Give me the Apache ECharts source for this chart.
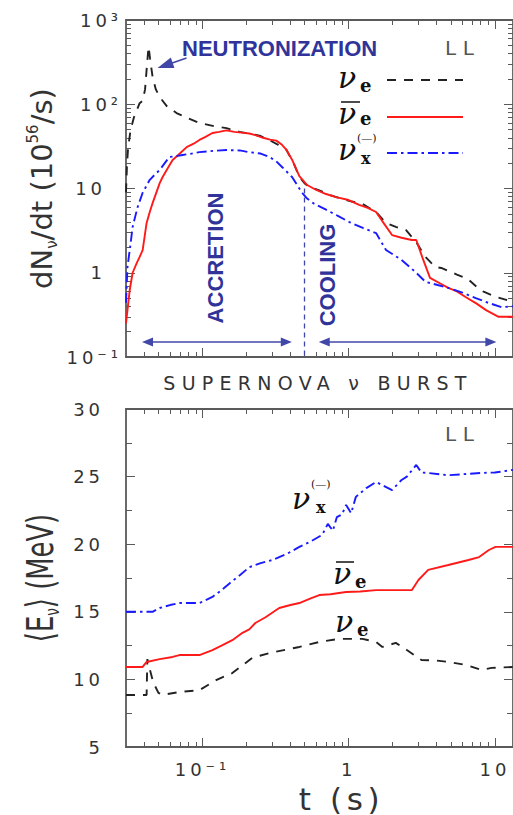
<!DOCTYPE html>
<html><head><meta charset="utf-8">
<script src="https://cdn.jsdelivr.net/npm/echarts@6/dist/echarts.min.js"></script>
<style>
html,body{margin:0;padding:0;background:#fff}
#c{width:513px;height:815px}
text[style*="lsA"],text[font-family*="lsA"]{letter-spacing:0.33em}
text[style*="lsB"],text[font-family*="lsB"]{letter-spacing:0.22em}
text[style*="lsC"],text[font-family*="lsC"]{letter-spacing:0.15em}
</style></head><body><div id="c"></div>
<script>
// ---------- DATA ----------
// top panel: dN/dt (10^56/s) vs t (s)
const nueT = [0.03,0.0305,0.031,0.0322,0.034,0.0372,0.039,0.0405,0.0418,0.0428,0.0438,0.0456,0.048,0.051,0.057,0.0665,0.08,0.0954,0.12,0.146,0.179,0.209,0.25,0.287,0.33,0.374,0.42,0.46,0.5,0.54,0.63,0.74,0.9,1.05,1.22,1.54,1.8,2.1,2.47,2.9,3.35,3.9,4.3,5.5,6.5,7.5,8.3,10.1,13.3];
const nueN = [9,20,30,49,70,103,110,150,300,480,350,210,150,122,95,78.7,68,60,55,52,47,45,42,37.5,33,29,20,13.7,11.5,10.4,9.5,8.4,7.5,7.0,6.7,5.26,3.9,3.5,3.2,2.3,1.54,1.17,1.14,0.95,0.85,0.68,0.6,0.52,0.45];
const antiT = [0.03,0.0318,0.0333,0.0355,0.0372,0.039,0.0415,0.0435,0.0456,0.051,0.0534,0.058,0.0625,0.07,0.078,0.087,0.0954,0.105,0.117,0.13,0.146,0.165,0.185,0.209,0.23,0.26,0.29,0.32,0.35,0.374,0.41,0.46,0.52,0.6,0.7,0.82,1.0,1.18,1.35,1.54,1.75,1.98,2.3,2.7,2.9,3.2,3.6,4.2,4.8,5.5,6.3,7.5,8.7,10.6,13.3];
const antiN = [0.25,0.62,1.0,1.3,1.54,1.86,3.9,5.2,6.7,11.6,13.7,17.5,21.8,26,31,34,37.7,41,45.6,47,49,47,46,45,43,40,38,37,33,29,22,14,11,9.6,8.6,7.9,7.3,6.4,5.9,5.26,3.8,2.8,2.6,2.45,2.45,1.5,0.87,0.75,0.66,0.6,0.515,0.43,0.36,0.30,0.30];
const nuxT = [0.03,0.0307,0.032,0.0333,0.036,0.039,0.0435,0.047,0.051,0.0594,0.065,0.073,0.085,0.0954,0.12,0.146,0.18,0.209,0.25,0.287,0.32,0.35,0.41,0.48,0.52,0.58,0.7,0.85,1.01,1.25,1.54,1.8,2.3,2.9,3.35,4.0,4.8,6.0,7.4,9.0,11.1,13.3];
const nuxN = [0.44,1.17,2.0,3.5,6,8.9,12.6,14.5,16.6,23.7,24,25,26,27,28,28.6,28.3,27,26,23.7,21,18,13.7,8.9,7.6,6.6,5.6,4.7,4.0,3.4,2.96,1.86,1.42,1.0,0.78,0.72,0.66,0.58,0.5,0.44,0.39,0.40];
// bottom panel: <E> (MeV) vs t (s)
const nueET = [0.03,0.0415,0.042,0.0435,0.046,0.05,0.0534,0.0696,0.0954,0.124,0.16,0.22,0.287,0.46,0.63,0.86,1.24,1.54,1.7,2.1,2.5,3.15,3.9,4.8,6.3,8.1,9.5,13.3];
const nueE = [8.85,8.85,11.5,10.8,9.8,9.0,8.85,9.07,9.2,9.95,10.47,11.6,11.95,12.4,12.77,13.0,13.0,12.77,12.4,12.7,12.17,11.43,11.4,11.3,11.07,10.7,10.85,10.92];
const antiET = [0.03,0.039,0.0415,0.051,0.0625,0.0696,0.0954,0.117,0.135,0.16,0.185,0.209,0.23,0.27,0.335,0.4,0.46,0.55,0.63,0.75,0.96,1.2,1.54,2.0,2.7,3.0,3.5,4.8,6.6,7.8,9.1,10.1,13.3];
const antiE = [10.92,10.92,11.29,11.5,11.66,11.8,11.8,12.17,12.5,12.9,13.4,13.7,14.17,14.6,15.28,15.5,15.65,16.0,16.24,16.3,16.46,16.5,16.6,16.6,16.6,17.35,18.1,18.46,18.83,19.05,19.57,19.8,19.8];
const nuxET = [0.03,0.0456,0.051,0.06,0.0696,0.0954,0.117,0.135,0.153,0.18,0.209,0.25,0.3,0.38,0.46,0.55,0.66,0.72,0.78,0.83,0.9,0.96,1.04,1.12,1.32,1.54,1.75,1.98,2.3,2.5,2.9,3.15,3.5,4.8,6.5,8.1,10,13.3];
const nuxE = [15.0,15.0,15.28,15.5,15.65,15.65,16.1,16.6,17.1,17.7,18.3,18.6,18.83,19.3,19.8,20.2,20.7,21.5,21.0,22.0,22.2,22.9,22.3,23.5,24.15,24.6,24.3,24.0,24.75,25.0,25.86,25.3,25.27,25.1,25.2,25.27,25.3,25.5];
// ticks and labels
const xMajorTicks = [0.1, 1, 10];
const xMajorLabels = ['10⁻¹', '1', '10'];
const xMinorTicks = [0.04,0.05,0.06,0.07,0.08,0.09,0.2,0.3,0.4,0.5,0.6,0.7,0.8,0.9,2,3,4,5,6,7,8,9];
const yTopTicks = [0.1, 1, 10, 100, 1000];
const yTopLabels = ['10⁻¹', '{p|1}', '{p|10}', '10²', '10³'];
const yTopMinor = [0.2,0.3,0.4,0.5,0.6,0.7,0.8,0.9,2,3,4,5,6,7,8,9,20,30,40,50,60,70,80,90,200,300,400,500,600,700,800,900];
// annotation anchors (data coordinates)
const accretionArrow = [[0.0421, 0.1507], [0.3746, 0.1507]];
const coolingArrow = [[0.681, 0.1507], [9.39, 0.1507]];
const boundary = [[0.5, 10], [0.5, 0.1]];
const neutronArrow = [[0.0778, 354], [0.0555, 289]];

// ---------- STYLE ----------
const X_MIN = 0.03, X_MAX = 13.3;
const AX = '#5a5a5a';
const NAVY = '#30349a';
const TXT = '#333';
const TICKFONT = 'DejaVu Sans, lsB';
const BIGFONT = 'DejaVu Sans, lsA';
const zip = (a, b) => a.map((v, i) => [v, b[i]]);
const idxOf = (arr, v) => { let best = 0; arr.forEach((a, i) => { if (Math.abs(Math.log(a / v)) < Math.abs(Math.log(arr[best] / v))) best = i; }); return best; };

function xAx(gridIndex, position, ticks, len, showLine, label) {
  return {
    type: 'log', logBase: 10, gridIndex, position, min: X_MIN, max: X_MAX,
    axisLine: {show: showLine, onZero: false, lineStyle: {color: AX, width: 1.8}},
    axisTick: {show: true, inside: true, length: len, customValues: ticks, lineStyle: {color: AX, width: 1}},
    axisLabel: label || {show: false},
    splitLine: {show: false}
  };
}
function yLogAx(position, ticks, len, showLine, label) {
  return {
    type: 'log', logBase: 10, gridIndex: 0, position, min: 0.1, max: 1000,
    axisLine: {show: showLine, onZero: false, lineStyle: {color: AX, width: 1.8}},
    axisTick: {show: true, inside: true, length: len, customValues: ticks, lineStyle: {color: AX, width: 1}},
    axisLabel: label || {show: false},
    splitLine: {show: false}
  };
}
function yLinAx(position, label) {
  return {
    type: 'value', gridIndex: 1, position, min: 5, max: 30, interval: 5,
    axisLine: {show: true, onZero: false, lineStyle: {color: AX, width: 1.8}},
    axisTick: {show: true, inside: true, length: 9, lineStyle: {color: AX, width: 1}},
    minorTick: {show: true, splitNumber: 2, length: 6, lineStyle: {color: AX, width: 1}},
    axisLabel: label || {show: false},
    splitLine: {show: false}
  };
}

const xLabel = {
  show: true, customValues: xMajorTicks, margin: 13,
  formatter: v => xMajorLabels[idxOf(xMajorTicks, v)],
  fontFamily: TICKFONT, fontSize: 18, color: TXT
};
const yTopLabel = {
  show: true, customValues: yTopTicks, margin: 4,
  formatter: v => yTopLabels[idxOf(yTopTicks, v)],
  fontFamily: TICKFONT, fontSize: 18, color: TXT,
  rich: {p: {fontFamily: TICKFONT, fontSize: 18, color: TXT, padding: [0, 16, 0, 0]}}
};
const yBotLabel = {show: true, margin: 22, fontFamily: TICKFONT, fontSize: 18, color: TXT};

function line(name, xi, yi, data, color, dash, extra) {
  return Object.assign({
    name, type: 'line', xAxisIndex: xi, yAxisIndex: yi, data, symbol: 'none',
    animation: false, silent: true, z: 3,
    lineStyle: {color, width: 1.9, type: dash}, itemStyle: {color}
  }, extra || {});
}

const markLine = {
  silent: true, animation: false, label: {show: false},
  symbol: ['triangle', 'triangle'], symbolSize: [9, 11],
  lineStyle: {color: '#4047a8', width: 1.6, type: 'solid'},
  emphasis: {disabled: true},
  data: [
    [{coord: accretionArrow[0]}, {coord: accretionArrow[1]}],
    [{coord: coolingArrow[0]}, {coord: coolingArrow[1]}],
    [{coord: boundary[0], symbol: 'none', lineStyle: {color: '#4047a8', width: 1.3, type: [5, 4]}},
     {coord: boundary[1], symbol: 'none'}],
    [{coord: neutronArrow[0], symbol: 'none', lineStyle: {color: '#4047a8', width: 1.6, type: 'solid'}},
     {coord: neutronArrow[1], symbol: 'triangle', symbolSize: [11, 16]}]
  ]
};

const serifNu = (x, y, size) => ({type: 'text', x, y, silent: true, style: {text: 'ν', fontFamily: 'DejaVu Serif', fontStyle: 'italic', fontSize: size || 30, fill: '#111', align: 'left', verticalAlign: 'middle'}});
const subTxt = (t, x, y, size) => ({type: 'text', x, y, silent: true, style: {text: t, fontFamily: 'DejaVu Serif', fontWeight: 'bold', fontSize: size || 18, fill: '#111', align: 'left', verticalAlign: 'middle'}});
const bar = (x1, x2, y) => ({type: 'line', silent: true, shape: {x1, y1: y, x2, y2: y}, style: {stroke: '#111', lineWidth: 1.5}});
const paren = (x, y) => ({type: 'text', x, y, silent: true, style: {text: '(—)', fontFamily: 'DejaVu Serif', fontSize: 11, fill: '#111', align: 'left', verticalAlign: 'middle'}});
const sample = (y, color, dash) => ({type: 'line', silent: true, shape: {x1: 387, y1: y, x2: 463, y2: y}, style: {stroke: color, lineWidth: 1.9, lineDash: dash}});
const bold = (t, x, y, rot) => ({type: 'text', x, y, rotation: rot || 0, silent: true, style: {text: t, fontFamily: 'Liberation Sans', fontWeight: 'bold', fontSize: 22, fill: NAVY, align: rot ? 'center' : 'left', verticalAlign: 'middle'}});

const DASH_E = [9, 8];
const DASH_X = [10, 4, 2.5, 4];

const option = {
  backgroundColor: '#fff',
  animation: false,
  grid: [
    {left: 126, top: 20, width: 388, height: 337},
    {left: 126, top: 409, width: 388, height: 338}
  ],
  xAxis: [
    xAx(0, 'bottom', xMajorTicks, 9, true),
    xAx(0, 'bottom', xMinorTicks, 5, false),
    xAx(0, 'top', xMajorTicks, 9, true),
    xAx(0, 'top', xMinorTicks, 5, false),
    Object.assign(xAx(1, 'bottom', xMajorTicks, 9, true, xLabel), {
      name: 't (s)', nameLocation: 'middle', nameGap: 36,
      nameTextStyle: {fontFamily: 'DejaVu Sans, lsC', fontSize: 31, color: TXT, padding: [0, 0, 0, 44]}
    }),
    xAx(1, 'bottom', xMinorTicks, 5, false),
    xAx(1, 'top', xMajorTicks, 9, true),
    xAx(1, 'top', xMinorTicks, 5, false)
  ],
  yAxis: [
    Object.assign(yLogAx('left', yTopTicks, 9, true, yTopLabel), {
      name: '{a|dN}{b|ν}{a|/dt (10}{c|56}{a|/s)}', nameLocation: 'middle', nameGap: 67, nameRotate: 90,
      nameTextStyle: {
        fontFamily: 'DejaVu Sans', fontSize: 29, color: TXT,
        rich: {
          a: {fontFamily: 'DejaVu Sans', fontSize: 29, color: TXT, lineHeight: 34, verticalAlign: 'middle'},
          b: {fontFamily: 'DejaVu Sans', fontSize: 15, color: TXT, lineHeight: 15, verticalAlign: 'bottom'},
          c: {fontFamily: 'DejaVu Sans', fontSize: 15, color: TXT, lineHeight: 15, verticalAlign: 'top'}
        }
      }
    }),
    yLogAx('left', yTopMinor, 5, false),
    yLogAx('right', yTopTicks, 9, true),
    yLogAx('right', yTopMinor, 5, false),
    yLinAx('left', yBotLabel),
    yLinAx('right')
  ],
  graphic: [
    // bottom y-axis title (condensed, rotated)
    {type: 'text', x: 40, y: 578, rotation: Math.PI / 2, scaleX: 0.68, silent: true,
     style: {text: '{a|⟨E}{b|ν}{a|⟩ (MeV)}', align: 'center', verticalAlign: 'middle', fill: TXT,
       fontFamily: 'DejaVu Sans', fontSize: 38,
       rich: {
         a: {fontFamily: 'DejaVu Sans', fontSize: 38, fill: TXT, color: TXT, lineHeight: 44, verticalAlign: 'middle'},
         b: {fontFamily: 'DejaVu Sans', fontSize: 20, fill: TXT, color: TXT, lineHeight: 20, verticalAlign: 'bottom'}
       }}},
    // title and LL tags
    {type: 'text', x: 318, y: 383, silent: true, style: {text: 'SUPERNOVA ν BURST', fontFamily: BIGFONT, fontSize: 19, fill: TXT, align: 'center', verticalAlign: 'middle'}},
    {type: 'text', x: 445, y: 48, silent: true, style: {text: 'LL', fontFamily: BIGFONT, fontSize: 20, fill: '#555', align: 'left', verticalAlign: 'middle'}},
    {type: 'text', x: 445, y: 434, silent: true, style: {text: 'LL', fontFamily: BIGFONT, fontSize: 20, fill: '#555', align: 'left', verticalAlign: 'middle'}},
    // annotations
    bold('NEUTRONIZATION', 182, 48),
    bold('ACCRETION', 215, 258, Math.PI / 2),
    bold('COOLING', 327, 275, Math.PI / 2),
    // legend (top)
    serifNu(338, 77), subTxt('e', 360, 85),
    sample(80, '#222', DASH_E),
    bar(341, 360, 102), serifNu(338, 113), subTxt('e', 360, 118),
    sample(117, '#ff1a1a', null),
    paren(357, 138), serifNu(338, 149), subTxt('x', 361, 158, 16),
    sample(153, '#1a1aff', DASH_X),
    // curve labels (bottom)
    paren(311, 484), serifNu(292, 498), subTxt('x', 316, 507, 16),
    bar(336, 354, 562), serifNu(333, 573), subTxt('e', 355, 581),
    serifNu(335, 621), subTxt('e', 357, 629)
  ],
  series: [
    line('νe', 0, 0, zip(nueT, nueN), '#222', DASH_E, {markLine}),
    line('ν̄e', 0, 0, zip(antiT, antiN), '#ff1a1a', 'solid'),
    line('νx', 0, 0, zip(nuxT, nuxN), '#1a1aff', DASH_X),
    line('νe ⟨E⟩', 4, 4, zip(nueET, nueE), '#222', DASH_E),
    line('ν̄e ⟨E⟩', 4, 4, zip(antiET, antiE), '#ff1a1a', 'solid'),
    line('νx ⟨E⟩', 4, 4, zip(nuxET, nuxE), '#1a1aff', DASH_X)
  ]
};

const chart = echarts.init(document.getElementById('c'), null, {renderer: 'svg'});
chart.setOption(option);
</script>
</body></html>
